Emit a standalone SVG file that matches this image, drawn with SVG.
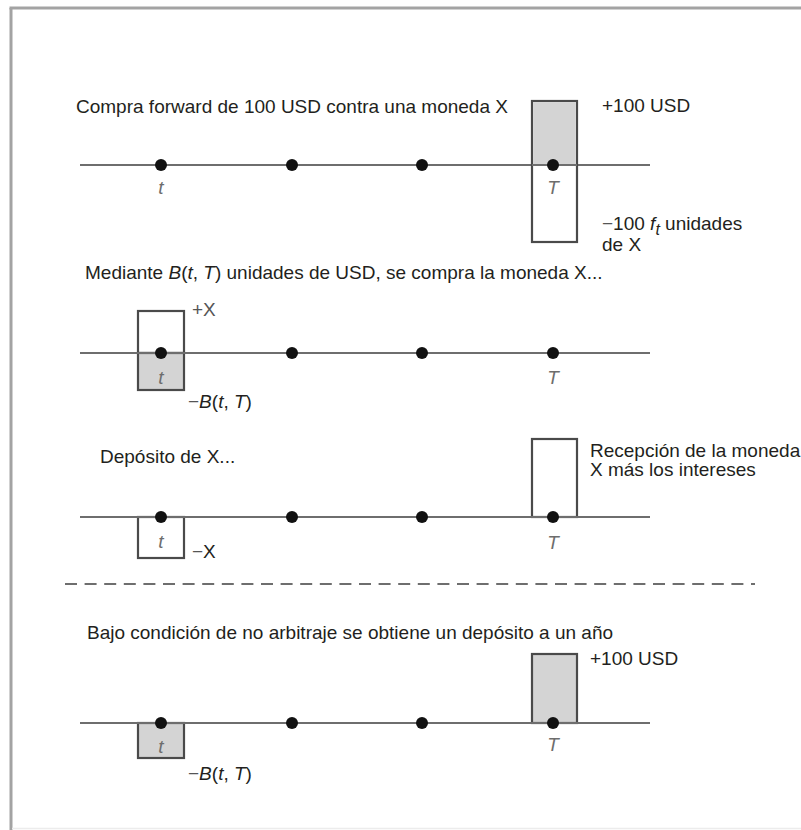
<svg xmlns="http://www.w3.org/2000/svg" width="801" height="830" viewBox="0 0 801 830">
<style>
text{font-family:"Liberation Sans",Arial,sans-serif;font-size:19px;fill:#231f20}
.i{font-style:italic}
.lbl{font-family:"Liberation Sans",Arial,sans-serif;font-style:italic;font-size:19px;fill:#6d6d6d;text-anchor:middle}
.axis{stroke:#6e6e6e;stroke-width:2;fill:none}
.box{stroke:#4a4a4a;stroke-width:2.2;fill:#fff}
.boxg{stroke:#4a4a4a;stroke-width:2.2;fill:#d4d4d4}
.fillg{fill:#d4d4d4;stroke:none}
.dot{fill:#111}
.frame{stroke:#a3a3a3;stroke-width:3;fill:none}
</style>
<rect x="0" y="0" width="801" height="830" fill="#fff"/>
<g id="frame">
<line class="frame" x1="9.5" y1="8" x2="801" y2="8"/>
<line class="frame" x1="11" y1="8" x2="11" y2="830"/>
<line x1="12" y1="828.5" x2="801" y2="828.5" stroke="#ececec" stroke-width="1.5"/>
</g>

<g id="connectors">
<line class="axis" x1="80" y1="165" x2="650" y2="165"/>
<line class="axis" x1="80" y1="353" x2="650" y2="353"/>
<line class="axis" x1="80" y1="517" x2="650" y2="517"/>
<line class="axis" x1="80" y1="723" x2="650" y2="723"/>
<line id="separator" x1="65" y1="584" x2="755" y2="584" stroke="#6e6e6e" stroke-width="2" stroke-dasharray="12 7.6"/>
</g>

<g id="panel1">
<text x="76" y="113">Compra forward de 100 USD contra una moneda X</text>
<rect class="box" x="532" y="101" width="45" height="141"/>
<rect class="fillg" x="533.1" y="102.1" width="42.8" height="62.9"/>
<line class="axis" x1="532" y1="165" x2="577" y2="165"/>
<text x="602" y="112">+100 USD</text>
<text x="602" y="230"><tspan fill="#555">−</tspan>100 <tspan class="i">f</tspan><tspan class="i" font-size="16" dy="5">t</tspan><tspan dy="-5"> unidades</tspan></text>
<text x="602" y="251">de X</text>
<circle class="dot" cx="161" cy="165" r="6"/>
<circle class="dot" cx="292" cy="165" r="6"/>
<circle class="dot" cx="422" cy="165" r="6"/>
<circle class="dot" cx="553" cy="165" r="6"/>
<text class="lbl" x="161" y="194">t</text>
<text class="lbl" x="553" y="194">T</text>
</g>

<g id="panel2">
<text x="85" y="279">Mediante <tspan class="i">B</tspan>(<tspan class="i">t</tspan>, <tspan class="i">T</tspan>) unidades de USD, se compra la moneda X...</text>
<rect class="box" x="138" y="311" width="46" height="42"/>
<rect class="boxg" x="138" y="353" width="46" height="37"/>
<line class="axis" x1="80" y1="353" x2="650" y2="353"/>
<text x="192" y="316" style="fill:#555">+X</text>
<text x="188" y="408"><tspan fill="#555">−</tspan><tspan class="i">B</tspan>(<tspan class="i">t</tspan>, <tspan class="i">T</tspan>)</text>
<circle class="dot" cx="161" cy="353" r="6"/>
<circle class="dot" cx="292" cy="353" r="6"/>
<circle class="dot" cx="422" cy="353" r="6"/>
<circle class="dot" cx="553" cy="353" r="6"/>
<text class="lbl" x="161" y="384">t</text>
<text class="lbl" x="553" y="384">T</text>
</g>

<g id="panel3">
<text x="100" y="463">Depósito de X...</text>
<rect class="box" x="138" y="517" width="46" height="41"/>
<rect class="box" x="532" y="439" width="45" height="78"/>
<line class="axis" x1="80" y1="517" x2="650" y2="517"/>
<text x="590" y="457">Recepción de la moneda</text>
<text x="590" y="476">X más los intereses</text>
<text x="192" y="558"><tspan fill="#555">−</tspan>X</text>
<circle class="dot" cx="161" cy="517" r="6"/>
<circle class="dot" cx="292" cy="517" r="6"/>
<circle class="dot" cx="422" cy="517" r="6"/>
<circle class="dot" cx="553" cy="517" r="6"/>
<text class="lbl" x="161" y="548">t</text>
<text class="lbl" x="553" y="549">T</text>
</g>

<g id="panel4">
<text x="87" y="639">Bajo condición de no arbitraje se obtiene un depósito a un año</text>
<rect class="boxg" x="138" y="723" width="46" height="35"/>
<rect class="boxg" x="532" y="654" width="45" height="69"/>
<line class="axis" x1="80" y1="723" x2="650" y2="723"/>
<text x="590" y="665">+100 USD</text>
<text x="188" y="780"><tspan fill="#555">−</tspan><tspan class="i">B</tspan>(<tspan class="i">t</tspan>, <tspan class="i">T</tspan>)</text>
<circle class="dot" cx="161" cy="723" r="6"/>
<circle class="dot" cx="292" cy="723" r="6"/>
<circle class="dot" cx="422" cy="723" r="6"/>
<circle class="dot" cx="553" cy="723" r="6"/>
<text class="lbl" x="161" y="753">t</text>
<text class="lbl" x="553" y="751">T</text>
</g>
</svg>
